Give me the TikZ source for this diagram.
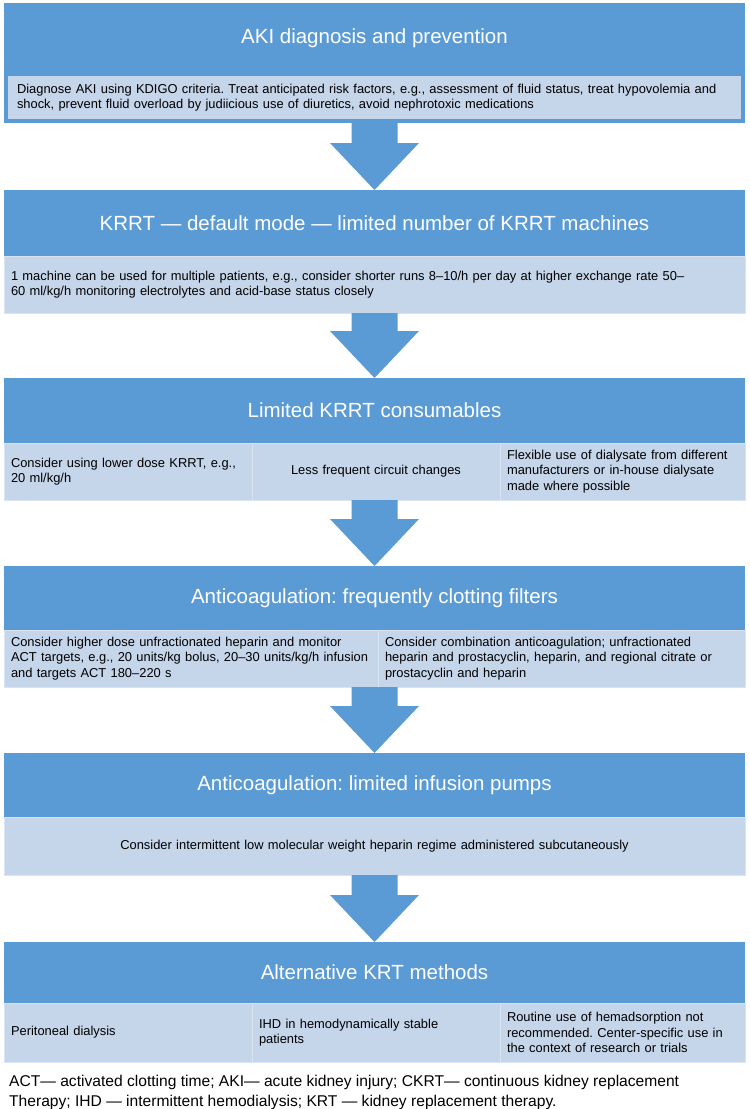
\documentclass[tikz,border=0pt]{standalone}
\usepackage{fontspec}
\setmainfont{Liberation Sans}
\usetikzlibrary{calc}

\definecolor{kdark}{HTML}{5B9BD5}
\definecolor{klight}{HTML}{C5D5EA}
\definecolor{kedge}{HTML}{DAE3F1}

\tikzset{
  headbox/.style={fill=kdark, text=white, font=\fontsize{20.5}{24}\selectfont,
    minimum width=741, inner sep=0, outer sep=0},
  notebox/.style={fill=klight, draw=kedge, line width=0.8pt,
    font=\fontsize{12.9}{15.5}\selectfont, inner xsep=7, inner ysep=0,
    outer sep=0, align=left},
}

% fat arrow from one block down to the next
\newcommand{\blockarrow}[2]{%
  \fill[kdark] ($(#1)+(-23,0)$) -- ($(#1)+(23,0)$) -- ($(#2)+(23,-47)$)
    -- ($(#2)+(44.5,-47)$) -- (#2) -- ($(#2)+(-44.5,-47)$)
    -- ($(#2)+(-23,-47)$) -- cycle;}

\begin{document}
\frenchspacing
\begin{tikzpicture}[x=1pt, y=-1pt]
  \useasboundingbox (0,0) rectangle (750,1109);

  % AKI
  \node[headbox, minimum height=70] (aki) at (374.5,38) {AKI diagnosis and prevention};
  \node[notebox, draw=kdark, line width=4pt, inner xsep=11, text width=715,
    minimum height=47] (akitxt) at (374.5,97.5)
    {Diagnose AKI using KDIGO criteria. Treat anticipated risk factors, e.g., assessment of fluid status, treat hypovolemia and\\
     shock, prevent fluid overload by judiicious use of diuretics, avoid nephrotoxic medications};

  % machines
  \node[headbox, minimum height=66] (krrt) at (374.5,223)
    {KRRT — default mode — limited number of KRRT machines};
  \node[notebox, text width=727, minimum height=57] (krrttxt) at (374.5,284.5)
    {1 machine can be used for multiple patients, e.g., consider shorter runs 8–10/h per day at higher exchange rate 50–\\
     60 ml/kg/h monitoring electrolytes and acid-base status closely};

  % consumables
  \node[headbox, minimum height=65] (cons) at (374.5,410.5) {Limited KRRT consumables};
  \node[notebox, text width=234, minimum height=57] (cons1) at (128,471.5)
    {Consider using lower dose KRRT, e.g.,\\20 ml/kg/h};
  \node[notebox, text width=234, minimum height=57, align=center] (cons2) at (376,471.5)
    {Less frequent circuit changes};
  \node[notebox, text width=231, minimum height=57] (cons3) at (622.5,471.5)
    {Flexible use of dialysate from different\\manufacturers or in-house dialysate\\made where possible};

  % clotting
  \node[headbox, minimum height=64] (acoag) at (374.5,598)
    {Anticoagulation: frequently clotting filters};
  \node[notebox, text width=360, minimum height=57] (hep1) at (191,658.5)
    {Consider higher dose unfractionated heparin and monitor\\
     ACT targets, e.g., 20 units/kg bolus, 20–30 units/kg/h infusion\\
     and targets ACT 180–220 s};
  \node[notebox, text width=353, minimum height=57] (hep2) at (561.5,658.5)
    {Consider combination anticoagulation; unfractionated\\
     heparin and prostacyclin, heparin, and regional citrate or\\
     prostacyclin and heparin};

  % pumps
  \node[headbox, minimum height=64] (pumps) at (374.5,785)
    {Anticoagulation: limited infusion pumps};
  \node[notebox, text width=727, minimum height=58, align=center] (lmwh) at (374.5,846)
    {Consider intermittent low molecular weight heparin regime administered subcutaneously};

  % alternatives
  \node[headbox, minimum height=61] (alt) at (374.5,972.5) {Alternative KRT methods};
  \node[notebox, text width=234, minimum height=59] (alt1) at (128,1032.5)
    {Peritoneal dialysis};
  \node[notebox, text width=234, minimum height=59] (alt2) at (376,1032.5)
    {IHD in hemodynamically stable\\patients};
  \node[notebox, text width=231, minimum height=59] (alt3) at (622.5,1032.5)
    {Routine use of hemadsorption not\\recommended. Center-specific use in\\the context of research or trials};

  \node[anchor=north west, align=left, inner sep=0, font=\fontsize{15.6}{20}\selectfont]
    (abbr) at (9,1075)
    {ACT— activated clotting time; AKI— acute kidney injury; CKRT— continuous kidney replacement\\
     Therapy; IHD — intermittent hemodialysis; KRT — kidney replacement therapy.};

  \coordinate (consend) at (cons.south |- cons2.south);
  \coordinate (hepend) at (acoag.south |- hep1.south);

  \blockarrow{akitxt.south}{krrt.north}
  \blockarrow{krrttxt.south}{cons.north}
  \blockarrow{consend}{acoag.north}
  \blockarrow{hepend}{pumps.north}
  \blockarrow{lmwh.south}{alt.north}
\end{tikzpicture}
\end{document}
